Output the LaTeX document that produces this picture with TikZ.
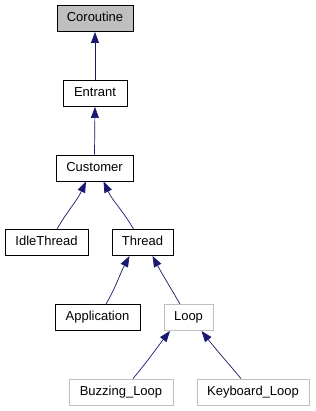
\documentclass[tikz,border=0pt]{standalone}
\usepackage{fontspec}
\setmainfont{Liberation Sans}
\usepackage{tikz}
\usepackage{xcolor}
\usetikzlibrary{arrows.meta,positioning}
\definecolor{edgeblue}{HTML}{191970}
\definecolor{boxgray}{HTML}{BFBFBF}
\tikzset{
  classbox/.style={
    draw=black,
    fill=white,
    line width=0.9pt,
    align=center,
    inner sep=0pt,
    minimum height=26pt,
    text height=9.5pt,
    text depth=3pt,
    font=\fontsize{13}{15}\selectfont
  },
  rootbox/.style={classbox, fill=boxgray},
  extbox/.style={classbox, draw=boxgray},
  inherit/.style={-{Triangle[length=11pt, width=8pt]}, line width=0.7pt, draw=edgeblue}
}

\begin{document}
\begin{tikzpicture}[x=1pt, y=-1pt]
\useasboundingbox (0,0) rectangle (315,411);

\node[rootbox, minimum width=76pt] (coroutine) at (95,18.5) {Coroutine};
\node[classbox, minimum width=64pt] (entrant) at (95,93.5) {Entrant};
\node[classbox, minimum width=77pt] (customer) at (94.5,168) {Customer};

\node[classbox, minimum width=83pt] (idle) at (46.5,242.5) {IdleThread};
\node[classbox, minimum width=61pt] (thread) at (142.5,242.5) {Thread};

\node[classbox, minimum width=85pt] (application) at (97.5,317.5) {Application};
\node[extbox, minimum width=49pt] (loop) at (188.5,317.5) {Loop};

\node[extbox, minimum width=104pt] (buzzing) at (121,392) {Buzzing\_Loop};
\node[extbox, minimum width=112pt] (keyboard) at (253,392) {Keyboard\_Loop};

\draw[inherit] (entrant.north) -- (coroutine.south);
\draw[inherit] (customer.north) -- (entrant.south);
\draw[inherit] ([xshift=10.5pt]idle.north) to[out=60, in=-115] ([xshift=-8.5pt]customer.south);
\draw[inherit] ([xshift=-9pt]thread.north) to[out=120, in=-65] ([xshift=9pt]customer.south);
\draw[inherit] ([xshift=8.5pt]application.north) to[out=60, in=-118] ([xshift=-13pt]thread.south);
\draw[inherit] ([xshift=-8.5pt]loop.north) to[out=120, in=-62] ([xshift=10pt]thread.south);
\draw[inherit] ([xshift=12pt]buzzing.north) to[out=50, in=-128] ([xshift=-18.5pt]loop.south);
\draw[inherit] ([xshift=-12pt]keyboard.north) to[out=130, in=-52] ([xshift=13pt]loop.south);
\end{tikzpicture}
\end{document}
